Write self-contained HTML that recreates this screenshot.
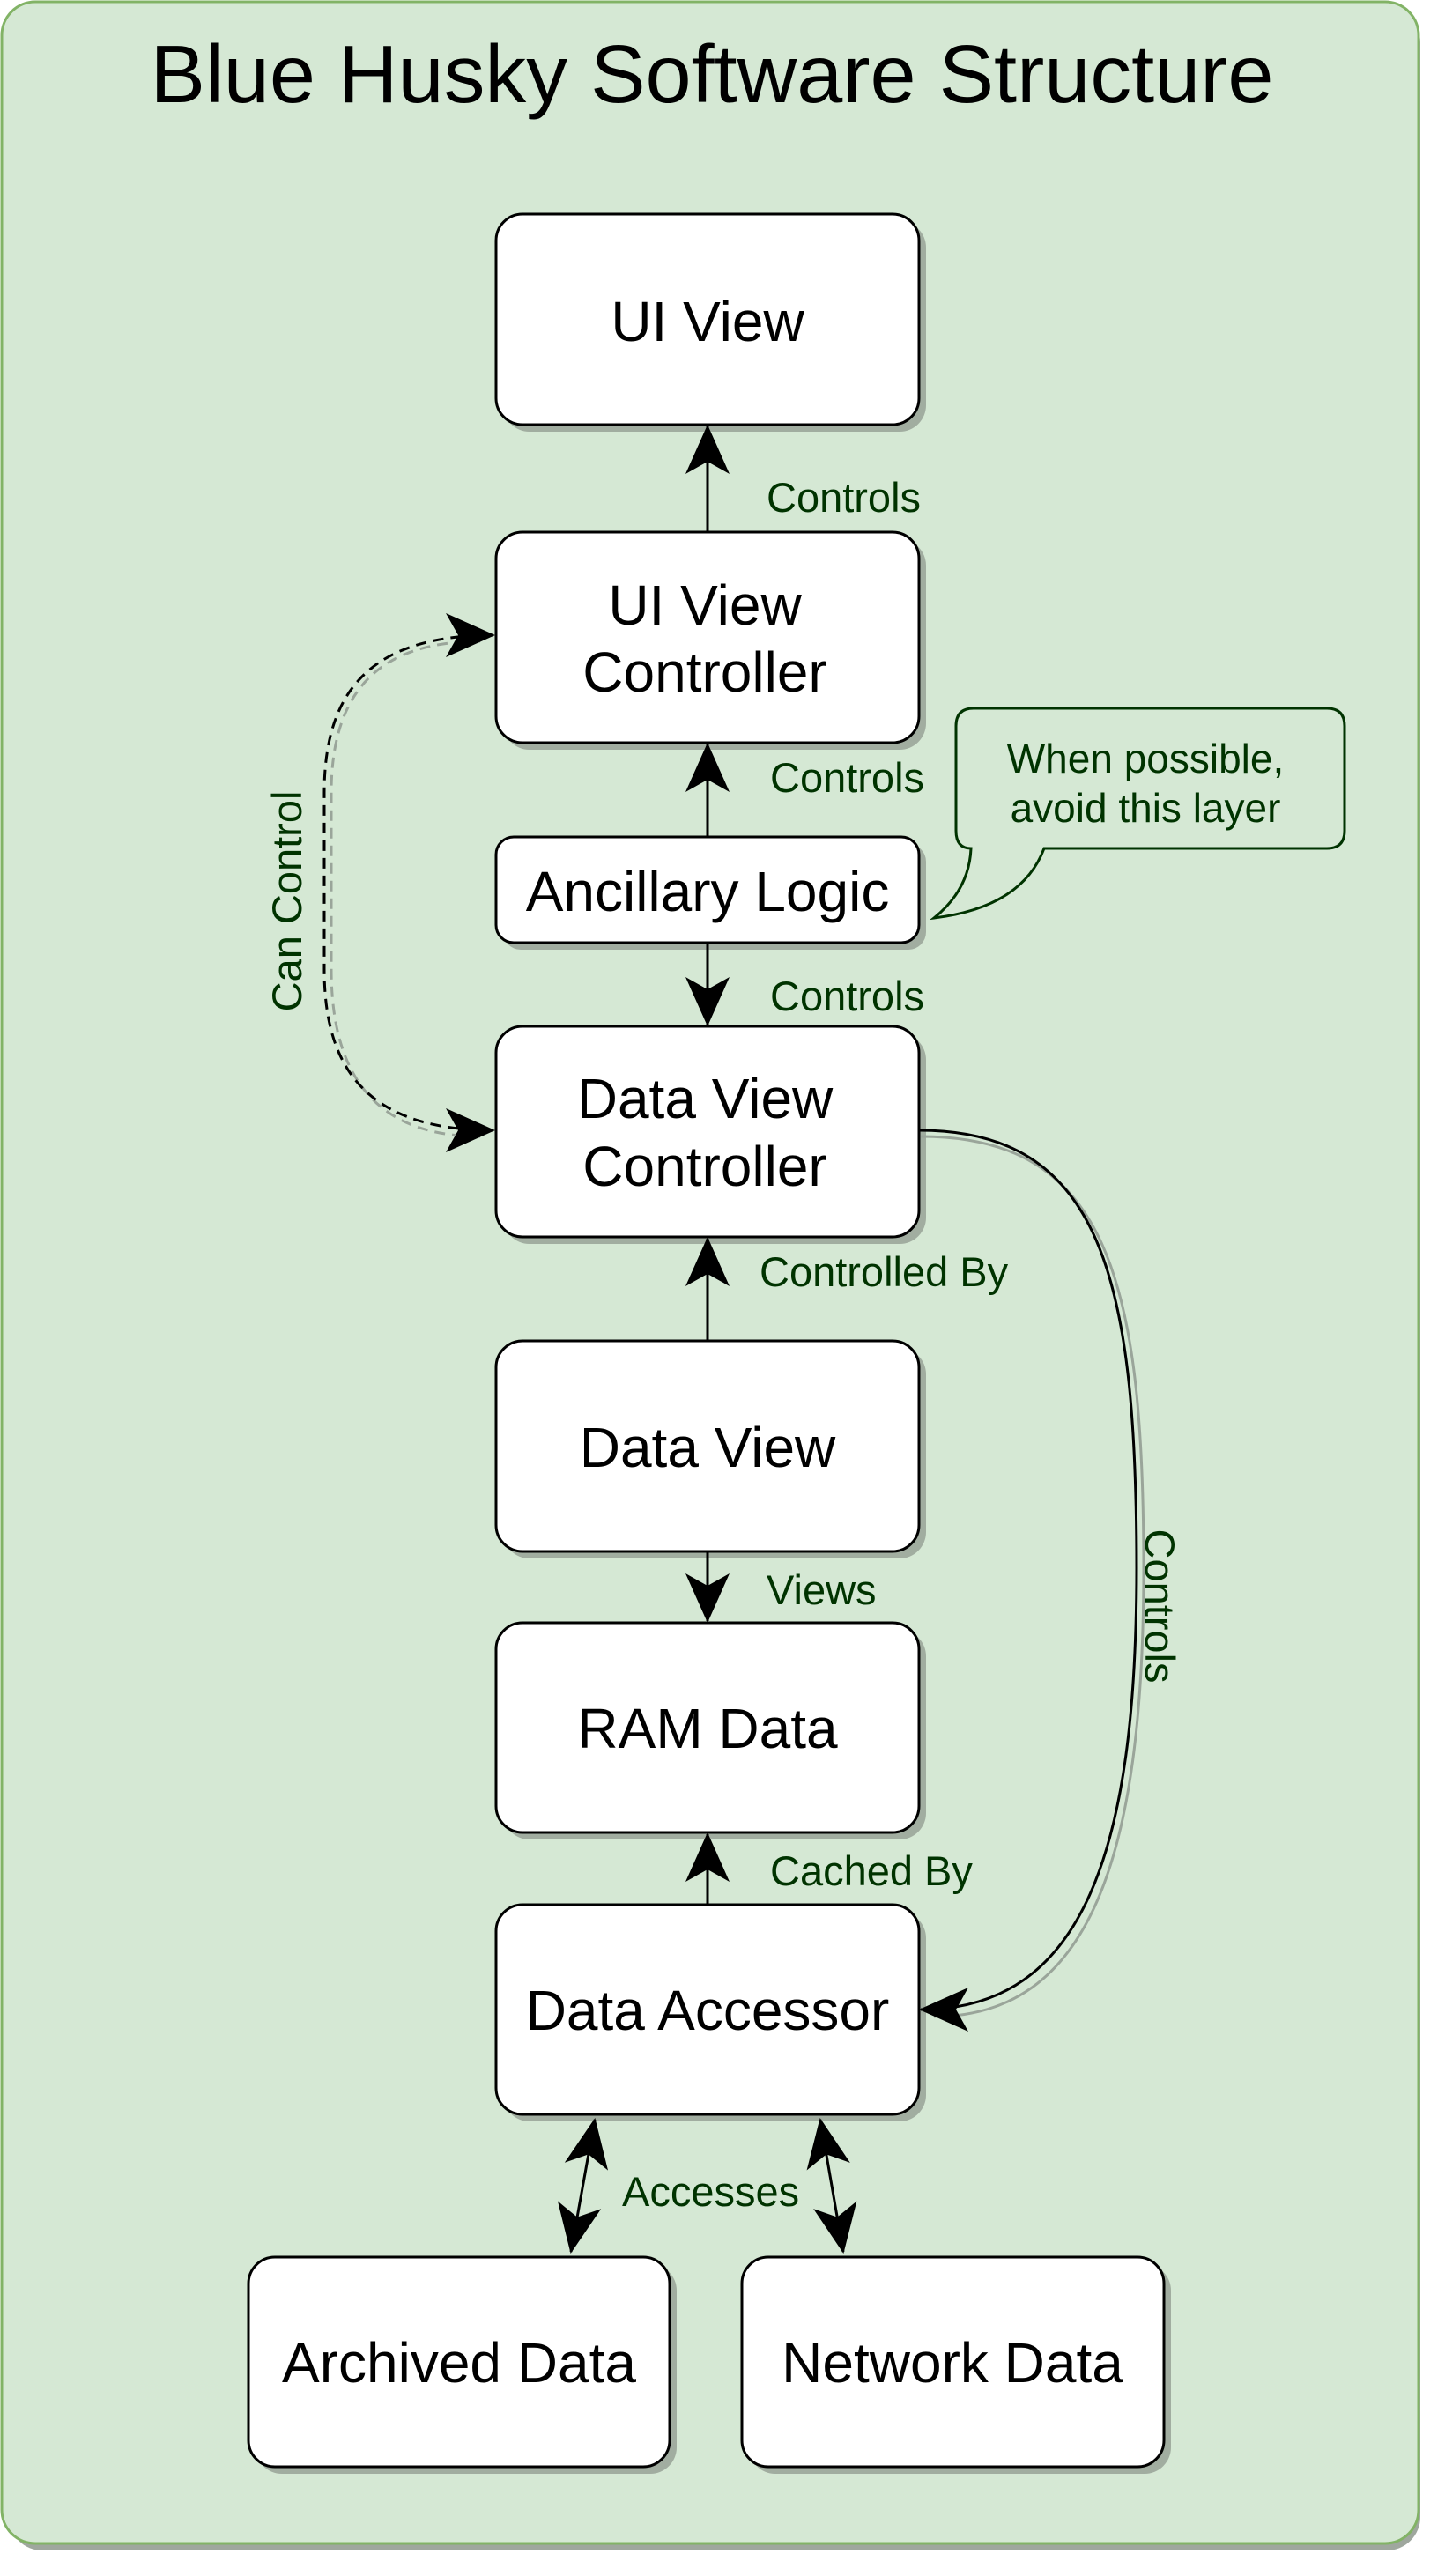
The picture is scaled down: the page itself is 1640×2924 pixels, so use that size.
<!DOCTYPE html>
<html><head><meta charset="utf-8"><style>
html,body{margin:0;padding:0;background:#fff;}
body{width:1640px;height:2924px;position:relative;overflow:hidden;font-family:"Liberation Sans",sans-serif;}
svg{position:absolute;left:0;top:0;}
</style></head><body>
<svg width="1640" height="2924" viewBox="0 0 1640 2924" xmlns="http://www.w3.org/2000/svg">
<defs>
<marker id="ah" viewBox="-60 -28 64 56" refX="0" refY="0" markerWidth="64" markerHeight="56" markerUnits="userSpaceOnUse" orient="auto-start-reverse">
<path d="M2,0 L-54,-25 L-40,0 L-54,25 Z" fill="#000"/>
</marker>
</defs>
<rect x="10" y="10" width="1602" height="2885" rx="38" fill="#9fa79e"/>
<rect x="2" y="2" width="1608" height="2885" rx="38" fill="#d5e8d4" stroke="#82b366" stroke-width="3"/>
<text x="808" y="116" font-size="93" text-anchor="middle" fill="#000" font-family="Liberation Sans, sans-serif" textLength="1275" lengthAdjust="spacingAndGlyphs">Blue Husky Software Structure</text>

<g fill="#a1ada0">
<rect x="571" y="251" width="480" height="239" rx="30"/>
<rect x="571" y="612" width="480" height="239" rx="30"/>
<rect x="571" y="958" width="480" height="120" rx="20"/>
<rect x="571" y="1173" width="480" height="239" rx="30"/>
<rect x="571" y="1530" width="480" height="239" rx="30"/>
<rect x="571" y="1850" width="480" height="238" rx="30"/>
<rect x="571" y="2170" width="480" height="238" rx="30"/>
<rect x="290" y="2570" width="478" height="238" rx="30"/>
<rect x="850" y="2570" width="479" height="238" rx="30"/>
</g>
<g fill="#fff" stroke="#000" stroke-width="3">
<rect x="563" y="243" width="480" height="239" rx="30"/>
<rect x="563" y="604" width="480" height="239" rx="30"/>
<rect x="563" y="950" width="480" height="120" rx="20"/>
<rect x="563" y="1165" width="480" height="239" rx="30"/>
<rect x="563" y="1522" width="480" height="239" rx="30"/>
<rect x="563" y="1842" width="480" height="238" rx="30"/>
<rect x="563" y="2162" width="480" height="238" rx="30"/>
<rect x="282" y="2562" width="478" height="238" rx="30"/>
<rect x="842" y="2562" width="479" height="238" rx="30"/>
</g>
<g font-size="64" text-anchor="middle" fill="#000">
<text x="803" y="387">UI View</text>
<text x="800" y="709">UI View</text>
<text x="800" y="785">Controller</text>
<text x="803" y="1034">Ancillary Logic</text>
<text x="800" y="1269">Data View</text>
<text x="800" y="1346">Controller</text>
<text x="803" y="1665">Data View</text>
<text x="803" y="1984">RAM Data</text>
<text x="803" y="2304">Data Accessor</text>
<text x="521" y="2704">Archived Data</text>
<text x="1081" y="2704">Network Data</text>
</g>

<g stroke="#000" stroke-width="3" fill="none">
<line x1="803" y1="604" x2="803" y2="484" marker-end="url(#ah)"/>
<line x1="803" y1="950" x2="803" y2="845" marker-end="url(#ah)"/>
<line x1="803" y1="1070" x2="803" y2="1163" marker-end="url(#ah)"/>
<line x1="803" y1="1522" x2="803" y2="1406" marker-end="url(#ah)"/>
<line x1="803" y1="1761" x2="803" y2="1840" marker-end="url(#ah)"/>
<line x1="803" y1="2162" x2="803" y2="2082" marker-end="url(#ah)"/>
<line x1="675" y1="2406" x2="648" y2="2556" marker-start="url(#ah)" marker-end="url(#ah)"/>
<line x1="931" y1="2406" x2="957" y2="2556" marker-start="url(#ah)" marker-end="url(#ah)"/>
</g>
<g stroke="#9aa59a" stroke-width="3" fill="none">
<path d="M1045,1290 C1255,1290 1298,1450 1298,1780 C1298,2110 1236,2289 1060,2289"/>
<path d="M545,1290 C410,1290 376,1200 376,1100 L376,900 C376,790 425,728 545,728" stroke-dasharray="12,8"/>
</g>
<g stroke="#000" stroke-width="3" fill="none">
<path d="M1043,1283 C1250,1283 1290,1450 1290,1780 C1290,2100 1230,2281 1045,2281" marker-end="url(#ah)"/>
<path d="M560,1283 C405,1283 368,1200 368,1100 L368,900 C368,785 420,721 560,721" stroke-dasharray="12,8" marker-start="url(#ah)" marker-end="url(#ah)"/>
</g>

<g font-size="47" fill="#003300">
<text x="870" y="581">Controls</text>
<text x="874" y="899">Controls</text>
<text x="874" y="1147">Controls</text>
<text x="862" y="1460">Controlled By</text>
<text x="870" y="1821">Views</text>
<text x="874" y="2140">Cached By</text>
<text x="706" y="2504">Accesses</text>
<text transform="translate(342,1023) rotate(-90)" text-anchor="middle">Can Control</text>
<text transform="translate(1300,1823) rotate(90)" text-anchor="middle">Controls</text>
</g>

<path d="M1105,804 L1506,804 Q1526,804 1526,824 L1526,943 Q1526,963 1506,963 L1185,963 Q1160,1030 1060,1042 Q1100,1010 1102,963 Q1085,963 1085,943 L1085,824 Q1085,804 1105,804 Z" fill="#d5e8d4" stroke="#003300" stroke-width="3"/>
<g font-size="46" fill="#003300" text-anchor="middle">
<text x="1300" y="877">When possible,</text>
<text x="1300" y="933">avoid this layer</text>
</g>
</svg>
</body></html>
